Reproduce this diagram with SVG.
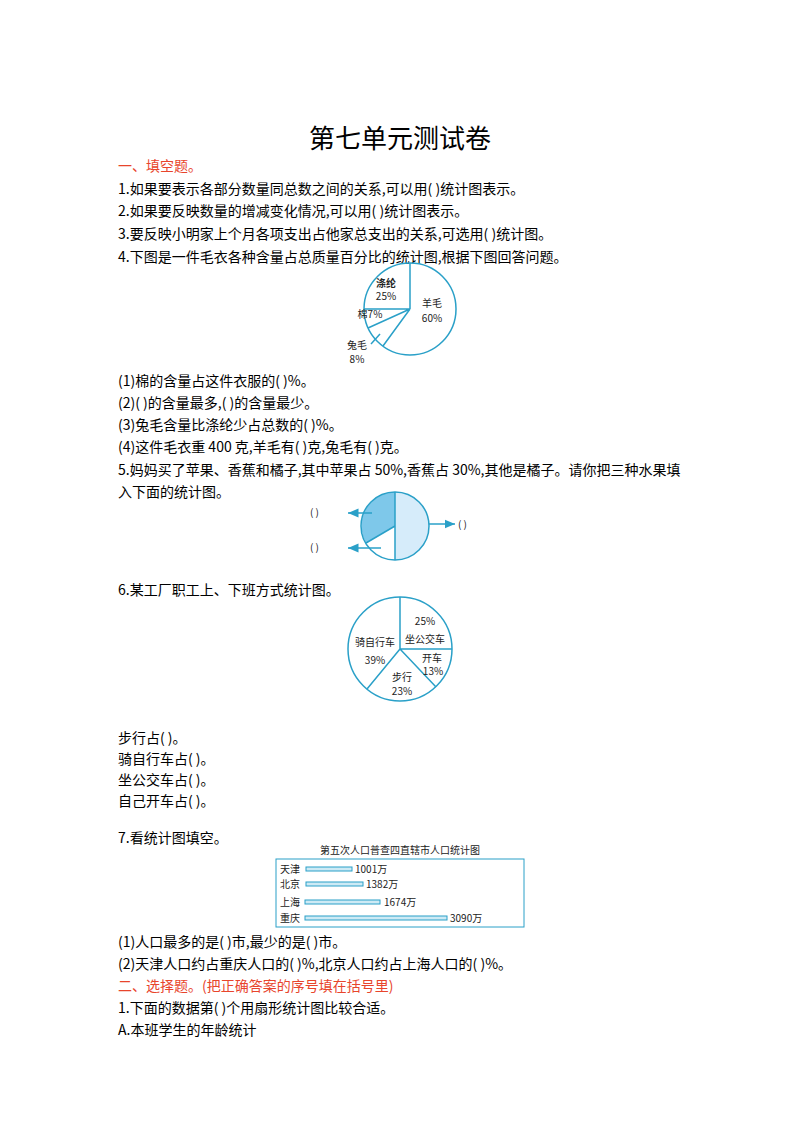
<svg xmlns="http://www.w3.org/2000/svg" width="800" height="1132" viewBox="0 0 800 1132">
<defs>
<style>
text{font-family:"Noto Sans CJK SC","Noto Sans",sans-serif;fill:#000}
.t{font-size:14px}
.r{fill:#e8452c}
.p{fill:none;stroke:#2aa0c8;stroke-width:1.5}
.s{font-family:"Noto Sans CJK SC","Liberation Serif",serif;font-size:10px;fill:#222}
.bar{fill:#cdeaf5;stroke:#2aa0c8;stroke-width:1}
</style>
<marker id="a" markerWidth="8" markerHeight="8" refX="7" refY="4" orient="auto"><path d="M0,1 L7,4 L0,7 z" fill="#2aa0c8"/></marker>
</defs>
<rect width="800" height="1132" fill="#fff"/>
<text x="400" y="148" font-size="26" text-anchor="middle">第七单元测试卷</text>
<g class="t">
<text x="118" y="171" class="r">一、填空题。</text>
<text x="118" y="194">1.如果要表示各部分数量同总数之间的关系,可以用(          )统计图表示。</text>
<text x="118" y="216">2.如果要反映数量的增减变化情况,可以用(       )统计图表示。</text>
<text x="118" y="239">3.要反映小明家上个月各项支出占他家总支出的关系,可选用(       )统计图。</text>
<text x="118" y="262">4.下图是一件毛衣各种含量占总质量百分比的统计图,根据下图回答问题。</text>
<text x="118" y="386">(1)棉的含量占这件衣服的(       )%。</text>
<text x="118" y="408">(2)(       )的含量最多,(       )的含量最少。</text>
<text x="118" y="430">(3)兔毛含量比涤纶少占总数的(       )%。</text>
<text x="118" y="452">(4)这件毛衣重 400 克,羊毛有(       )克,兔毛有(       )克。</text>
<text x="118" y="475">5.妈妈买了苹果、香蕉和橘子,其中苹果占 50%,香蕉占 30%,其他是橘子。请你把三种水果填</text>
<text x="118" y="497">入下面的统计图。</text>
<text x="118" y="595">6.某工厂职工上、下班方式统计图。</text>
<text x="118" y="743">步行占(       )。</text>
<text x="118" y="764">骑自行车占(       )。</text>
<text x="118" y="785">坐公交车占(       )。</text>
<text x="118" y="806">自己开车占(       )。</text>
<text x="118" y="843">7.看统计图填空。</text>
<text x="118" y="947">(1)人口最多的是(       )市,最少的是(       )市。</text>
<text x="118" y="969">(2)天津人口约占重庆人口的(       )%,北京人口约占上海人口的(       )%。</text>
<text x="118" y="991" class="r">二、选择题。(把正确答案的序号填在括号里)</text>
<text x="118" y="1013">1.下面的数据第(       )个用扇形统计图比较合适。</text>
<text x="118" y="1035">A.本班学生的年龄统计</text>
</g>
<g id="pie1">
<path d="M410,309 L410,263 M410,309 L364,309 M410,309 L383,346 M410,309 L368,328" class="p"/>
<circle cx="410" cy="309" r="46" class="p"/>
<path d="M380,334 L371,344" class="p" stroke-width="1"/>
<text x="386" y="287" class="s" font-weight="bold" text-anchor="middle">涤纶</text>
<text x="386" y="300" class="s" text-anchor="middle">25%</text>
<text x="370" y="318" class="s" text-anchor="middle">棉7%</text>
<text x="432" y="307" class="s" text-anchor="middle">羊毛</text>
<text x="432" y="322" class="s" text-anchor="middle">60%</text>
<text x="357" y="349" class="s" text-anchor="middle">兔毛</text>
<text x="357" y="363" class="s" text-anchor="middle">8%</text>
</g>
<g id="pie2">
<path d="M395,526 L395,492 A34,34 0 0,1 395,560 Z" fill="#d6ecfa" stroke="none"/>
<path d="M395,526 L366,543 A34,34 0 0,1 395,492 Z" fill="#7ec8ea" stroke="none"/>
<circle cx="395" cy="526" r="34" class="p"/>
<path d="M395,492 L395,560 M395,526 L366,543" class="p"/>
</g>
<g id="connectors">
<path d="M372,513 L348,513" class="p" marker-end="url(#a)"/>
<path d="M381,548 L348,548" class="p" marker-end="url(#a)"/>
<path d="M429,524 L455,524" class="p" marker-end="url(#a)"/>
</g>
<g font-size="10">
<text x="310" y="516" class="s">(        )</text>
<text x="310" y="551" class="s">(        )</text>
<text x="458" y="528" class="s">(          )</text>
</g>
<g id="pie3">
<circle cx="400" cy="649" r="52" class="p"/>
<path d="M400,649 L400,597 M400,649 L452,649 M400,649 L436,687 M400,649 L367,689" class="p"/>
<text x="425" y="625" class="s" font-size="11" text-anchor="middle">25%</text>
<text x="425" y="643" class="s" font-size="12" text-anchor="middle">坐公交车</text>
<text x="432" y="662" class="s" font-size="12" text-anchor="middle">开车</text>
<text x="433" y="675" class="s" font-size="11" text-anchor="middle">13%</text>
<text x="375" y="646" class="s" font-size="12" text-anchor="middle">骑自行车</text>
<text x="375" y="664" class="s" font-size="11" text-anchor="middle">39%</text>
<text x="402" y="681" class="s" font-size="12" text-anchor="middle">步行</text>
<text x="402" y="695" class="s" font-size="11" text-anchor="middle">23%</text>
</g>
<g id="bars">
<text x="400" y="854" class="s" font-size="10.5" text-anchor="middle">第五次人口普查四直辖市人口统计图</text>
<rect x="276" y="859" width="248" height="68" fill="none" stroke="#2aa0c8" stroke-width="1"/>
<text x="280" y="873" class="s" font-size="11">天津</text>
<rect x="306" y="867" width="46" height="4" class="bar"/>
<text x="355" y="873" class="s">1001万</text>
<text x="280" y="888" class="s" font-size="11">北京</text>
<rect x="306" y="882" width="57" height="4" class="bar"/>
<text x="366" y="888" class="s">1382万</text>
<text x="280" y="906" class="s" font-size="11">上海</text>
<rect x="305" y="900" width="75" height="4" class="bar"/>
<text x="384" y="906" class="s">1674万</text>
<text x="280" y="922" class="s" font-size="11">重庆</text>
<rect x="305" y="916" width="142" height="4" class="bar"/>
<text x="450" y="922" class="s">3090万</text>
</g>
</svg>
